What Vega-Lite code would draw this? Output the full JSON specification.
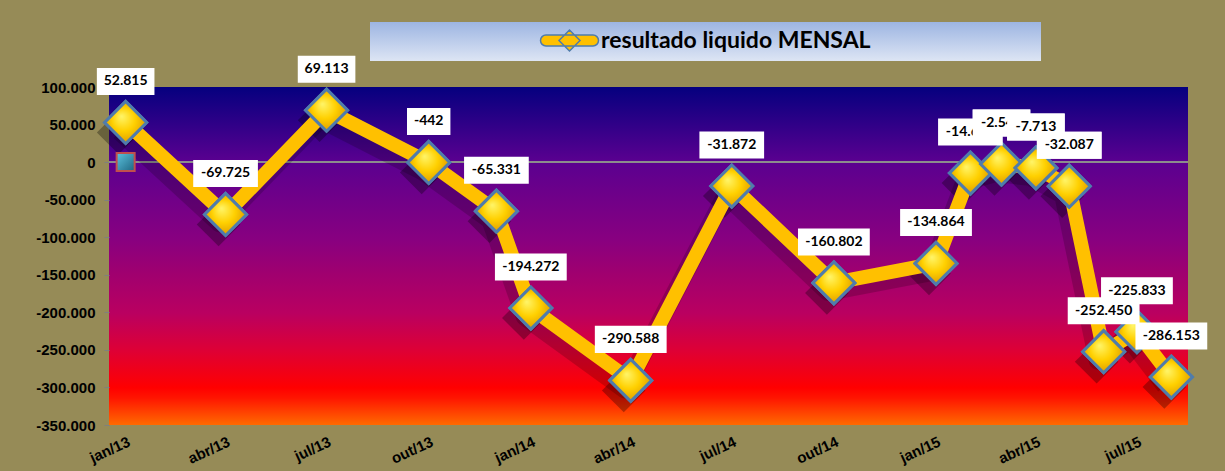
{
  "$schema": "https://vega.github.io/schema/vega-lite/v6.json",
  "width": 1079,
  "height": 338,
  "autosize": {"type": "none"},
  "padding": {"left": 109, "top": 87, "right": 37, "bottom": 46},
  "background": "#968B57",
  "config": {
    "locale": {
      "number": {"decimal": ",", "thousands": ".", "grouping": [3], "currency": ["R$", ""], "minus": "-"},
      "time": {
        "dateTime": "%A, %e de %B de %Y. %X",
        "date": "%d/%m/%Y",
        "time": "%H:%M:%S",
        "periods": ["AM", "PM"],
        "days": ["Domingo", "Segunda", "Terça", "Quarta", "Quinta", "Sexta", "Sábado"],
        "shortDays": ["Dom", "Seg", "Ter", "Qua", "Qui", "Sex", "Sáb"],
        "months": ["Janeiro", "Fevereiro", "Março", "Abril", "Maio", "Junho", "Julho", "Agosto", "Setembro", "Outubro", "Novembro", "Dezembro"],
        "shortMonths": ["jan", "fev", "mar", "abr", "mai", "jun", "jul", "ago", "set", "out", "nov", "dez"]
      }
    },
    "view": {
      "stroke": null,
      "fill": {
        "gradient": "linear", "x1": 0, "y1": 0, "x2": 0, "y2": 1,
        "stops": [
          {"offset": 0, "color": "#05007F"},
          {"offset": 0.22, "color": "#5A0090"},
          {"offset": 0.45, "color": "#880080"},
          {"offset": 0.553, "color": "#A0006F"},
          {"offset": 0.67, "color": "#BA0060"},
          {"offset": 0.78, "color": "#DE0035"},
          {"offset": 0.89, "color": "#FF0000"},
          {"offset": 0.92, "color": "#FF1500"},
          {"offset": 1, "color": "#FF6A00"}
        ]
      }
    },
    "axis": {
      "labelFont": "Liberation Sans",
      "labelFontWeight": "bold",
      "labelFontSize": 14,
      "labelColor": "#000000",
      "domain": false,
      "grid": false,
      "title": null
    }
  },
  "datasets": {
    "mensal": [
      {"mes": "2013-01-01", "valor": 52815},
      {"mes": "2013-04-01", "valor": -69725},
      {"mes": "2013-07-01", "valor": 69113},
      {"mes": "2013-10-01", "valor": -442},
      {"mes": "2013-12-01", "valor": -65331},
      {"mes": "2014-01-01", "valor": -194272},
      {"mes": "2014-04-01", "valor": -290588},
      {"mes": "2014-07-01", "valor": -31872},
      {"mes": "2014-10-01", "valor": -160802},
      {"mes": "2015-01-01", "valor": -134864},
      {"mes": "2015-02-01", "valor": -14637},
      {"mes": "2015-03-01", "valor": -2541},
      {"mes": "2015-04-01", "valor": -7713},
      {"mes": "2015-05-01", "valor": -32087},
      {"mes": "2015-06-01", "valor": -252450},
      {"mes": "2015-07-01", "valor": -225833},
      {"mes": "2015-08-01", "valor": -286153}
    ],
    "serie2": [
      {"mes": "2013-01-01", "valor": 0}
    ]
  },
  "data": {"name": "mensal"},
  "encoding": {
    "x": {
      "field": "mes",
      "type": "temporal",
      "scale": {
        "type": "utc",
        "domain": [
          {"year": 2012, "month": 12, "date": 17, "utc": true},
          {"year": 2015, "month": 8, "date": 16, "utc": true}
        ]
      },
      "axis": {
        "format": "%b/%y",
        "tickCount": {"interval": "month", "step": 3},
        "labelAngle": -25,
        "labelAlign": "right",
        "labelBaseline": "top",
        "labelFontSize": 15,
        "labelPadding": 9,
        "labelFlush": false,
        "labelOverlap": false,
        "ticks": false
      }
    },
    "y": {
      "field": "valor",
      "type": "quantitative",
      "scale": {"domain": [-350000, 100000], "nice": false, "zero": false},
      "axis": {
        "values": [-350000, -300000, -250000, -200000, -150000, -100000, -50000, 0, 50000, 100000],
        "format": ",.0f",
        "labelFontSize": 15,
        "labelPadding": 9,
        "tickSize": 5,
        "tickColor": "#7F7F7F"
      }
    }
  },
  "layer": [
    {
      "mark": {"type": "rule", "color": "#8C8C8C", "strokeWidth": 2},
      "encoding": {
        "x": {"datum": {"year": 2012, "month": 12, "date": 17, "utc": true}, "type": "temporal"},
        "x2": {"datum": {"year": 2015, "month": 8, "date": 16, "utc": true}},
        "y": {"datum": 0, "type": "quantitative"}
      }
    },
    {
      "mark": {"type": "line", "color": "#000000", "opacity": 0.18, "strokeWidth": 18, "strokeJoin": "round", "xOffset": -6, "yOffset": 9}
    },
    {
      "mark": {"type": "point", "shape": "diamond", "size": 1900, "filled": true, "color": "#000000", "opacity": 0.3, "strokeWidth": 0, "xOffset": -7, "yOffset": 10}
    },
    {
      "mark": {"type": "line", "color": "#FFC000", "strokeWidth": 14, "strokeJoin": "round", "strokeCap": "round"}
    },
    {
      "data": {"name": "serie2"},
      "mark": {
        "type": "point", "shape": "square", "size": 324, "filled": true, "opacity": 1,
        "fill": {"gradient": "linear", "x1": 0, "y1": 0, "x2": 1, "y2": 1, "stops": [{"offset": 0, "color": "#5CC3DF"}, {"offset": 1, "color": "#1D6581"}]},
        "stroke": "#C0504D", "strokeWidth": 2
      }
    },
    {
      "mark": {"type": "point", "shape": "diamond", "size": 1764, "filled": true, "opacity": 1, "stroke": "#4F7CAC", "strokeWidth": 3},
      "encoding": {
        "fill": {
          "datum": "resultado liquido MENSAL",
          "type": "nominal",
          "scale": {"range": ["#FFC000"]},
          "legend": {
            "orient": "none",
            "legendX": 261,
            "legendY": -65,
            "direction": "horizontal",
            "title": ".",
            "titleOrient": "right",
            "titleColor": "transparent",
            "titleFontSize": 10,
            "titlePadding": 160,
            "padding": 7,
            "fillColor": {"value": {"gradient": "linear", "x1": 0, "y1": 0, "x2": 0, "y2": 1, "stops": [{"offset": 0, "color": "#9DB5E2"}, {"offset": 1, "color": "#DDE5F4"}]}},
            "labelFont": "Lato",
            "labelFontSize": 23,
            "labelFontWeight": "bold",
            "labelColor": "#000000",
            "labelLimit": 2000,
            "symbolType": "M-2.35,-0.55L2.35,-0.55A0.55,0.55 0 0 1 2.35,0.55L-2.35,0.55A0.55,0.55 0 0 1 -2.35,-0.55ZM-1.05,0L0,-1.05L1.05,0L0,1.05Z",
            "symbolSize": 400,
            "symbolStrokeColor": "#4F7CAC",
            "symbolStrokeWidth": 1.5,
            "symbolOffset": 181,
            "labelOffset": 20
          }
        }
      }
    },
    {
      "mark": {
        "type": "point", "shape": "diamond", "size": 1764, "filled": true, "opacity": 1, "stroke": "#4F7CAC", "strokeWidth": 3,
        "fill": {"gradient": "radial", "x1": 0.4, "y1": 0.35, "r1": 0, "x2": 0.5, "y2": 0.5, "r2": 0.55, "stops": [{"offset": 0, "color": "#FFF56A"}, {"offset": 0.5, "color": "#FFD000"}, {"offset": 1, "color": "#D99500"}]}
      }
    },
    {
      "mark": {"type": "rect", "fill": "#FFFFFF", "width": {"expr": "7.1*length(format(datum.valor, ',.0f'))+15"}, "height": 27, "yOffset": -41}
    },
    {
      "mark": {"type": "text", "font": "Lato", "fontSize": 14, "fontWeight": "bold", "color": "#000000", "align": "center", "baseline": "middle", "yOffset": -41},
      "encoding": {"text": {"field": "valor", "type": "quantitative", "format": ",.0f"}}
    },
    {
      "transform": [{"filter": "datum.valor == -2541"}],
      "mark": {"type": "rect", "fill": "#FFFFFF", "width": {"expr": "7.1*length(format(datum.valor, ',.0f'))+15"}, "height": 27, "yOffset": -41}
    },
    {
      "transform": [{"filter": "datum.valor == -2541"}],
      "mark": {"type": "text", "font": "Lato", "fontSize": 14, "fontWeight": "bold", "color": "#000000", "align": "center", "baseline": "middle", "yOffset": -41},
      "encoding": {"text": {"field": "valor", "type": "quantitative", "format": ",.0f"}}
    },
    {
      "transform": [{"filter": "datum.valor == -7713"}],
      "mark": {"type": "rect", "fill": "#FFFFFF", "width": {"expr": "7.1*length(format(datum.valor, ',.0f'))+15"}, "height": 27, "yOffset": -41}
    },
    {
      "transform": [{"filter": "datum.valor == -7713"}],
      "mark": {"type": "text", "font": "Lato", "fontSize": 14, "fontWeight": "bold", "color": "#000000", "align": "center", "baseline": "middle", "yOffset": -41},
      "encoding": {"text": {"field": "valor", "type": "quantitative", "format": ",.0f"}}
    },
    {
      "transform": [{"filter": "datum.valor == -32087"}],
      "mark": {"type": "rect", "fill": "#FFFFFF", "width": {"expr": "7.1*length(format(datum.valor, ',.0f'))+15"}, "height": 27, "yOffset": -41}
    },
    {
      "transform": [{"filter": "datum.valor == -32087"}],
      "mark": {"type": "text", "font": "Lato", "fontSize": 14, "fontWeight": "bold", "color": "#000000", "align": "center", "baseline": "middle", "yOffset": -41},
      "encoding": {"text": {"field": "valor", "type": "quantitative", "format": ",.0f"}}
    }
  ]
}
